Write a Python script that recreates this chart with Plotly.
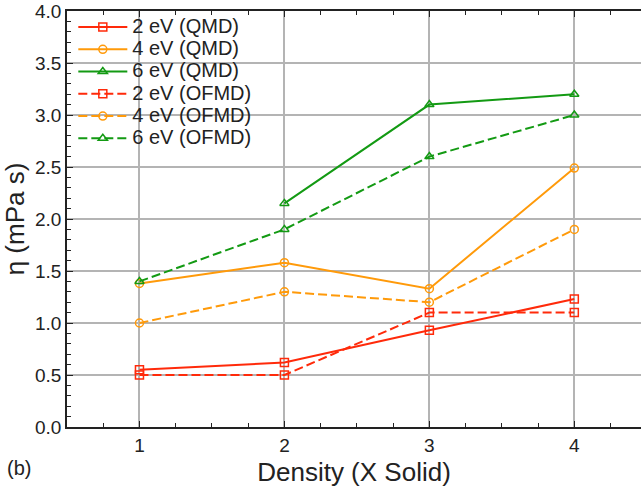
import plotly.graph_objects as go

density = [1, 2, 3, 4]
qmd_2ev = [0.55, 0.62, 0.93, 1.23]
qmd_4ev = [1.38, 1.58, 1.33, 2.49]
qmd_6ev = [None, 2.15, 3.10, 3.20]
ofmd_2ev = [0.50, 0.50, 1.10, 1.10]
ofmd_4ev = [1.00, 1.30, 1.20, 1.90]
ofmd_6ev = [1.40, 1.90, 2.60, 3.00]

RED = "#ff2a0a"
ORANGE = "#ff9a0a"
GREEN = "#139a13"
FONT = "Liberation Sans, Arial, sans-serif"
DASH = "9px,4px"

series = [
    ("2 eV (QMD)", qmd_2ev, RED, "square-open", "solid"),
    ("4 eV (QMD)", qmd_4ev, ORANGE, "circle-open", "solid"),
    ("6 eV (QMD)", qmd_6ev, GREEN, "triangle-up-open", "solid"),
    ("2 eV (OFMD)", ofmd_2ev, RED, "square-open", DASH),
    ("4 eV (OFMD)", ofmd_4ev, ORANGE, "circle-open", DASH),
    ("6 eV (OFMD)", ofmd_6ev, GREEN, "triangle-up-open", DASH),
]

fig = go.Figure()
for name, ys, color, sym, dash in series:
    fig.add_trace(go.Scatter(
        x=density, y=ys, name='<span style="font-size:20px">' + name + '</span>',
        mode="lines+markers",
        line=dict(color=color, width=2, dash=dash),
        marker=dict(symbol=sym, size=8, color=color, line=dict(color=color, width=1.5)),
        connectgaps=False,
    ))

fig.update_layout(
    width=641, height=491,
    margin=dict(l=67, r=0, t=11, b=64, autoexpand=False),
    paper_bgcolor="white", plot_bgcolor="white",
    font=dict(family=FONT, size=19, color="#222222"),
    showlegend=True,
    legend=dict(x=0.011, y=1.0, xanchor="left", yanchor="top",
                bgcolor="rgba(0,0,0,0)", font=dict(size=14.8, family=FONT),
                tracegroupgap=0, itemwidth=49),
)
fig.add_annotation(text="(b)", xref="paper", yref="paper", x=-0.108, y=-0.0986,
                   xanchor="left", yanchor="middle", showarrow=False,
                   font=dict(size=20, family=FONT, color="#222222"))

fig.update_xaxes(
    range=[0.5, 4.46], tickvals=[1, 2, 3, 4], ticks="inside", ticklen=6,
    tickcolor="#222222", showline=True, linecolor="#222222", linewidth=1.5,
    mirror="ticks", showgrid=True, gridcolor="#b4b4b4", gridwidth=1.5,
    zeroline=False, tickfont=dict(size=19), automargin=False,
    minor=dict(dtick=0.25, ticks="inside", ticklen=4, tickcolor="#222222", showgrid=False),
    title=dict(text="Density (X Solid)", font=dict(size=26, family=FONT), standoff=8),
)
fig.update_yaxes(
    range=[0, 4.0], dtick=0.5, tickformat=".1f", ticks="inside", ticklen=6,
    tickcolor="#222222", showline=True, linecolor="#222222", linewidth=1.5,
    showgrid=True, gridcolor="#b4b4b4", gridwidth=1.5, zeroline=False,
    tickfont=dict(size=19), automargin=False,
    minor=dict(dtick=0.1, ticks="inside", ticklen=4, tickcolor="#222222", showgrid=False),
    title=dict(text="η (mPa s)", font=dict(size=26, family=FONT), standoff=4),
)

fig.write_html("out.html", config={"displayModeBar": False},
               post_script="document.body.style.margin='0';")
